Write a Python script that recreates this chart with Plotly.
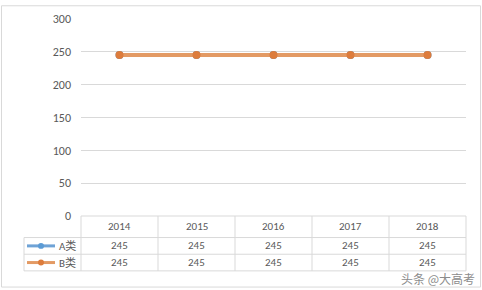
import plotly.graph_objects as go

years = ["2014", "2015", "2016", "2017", "2018"]
a_vals = [245, 245, 245, 245, 245]
b_vals = [245, 245, 245, 245, 245]
series_names = ["A类", "B类"]
y_ticks = [0, 50, 100, 150, 200, 250, 300]

W, H = 482, 290
L, R, T, B = 81, 466, 15, 216
FONT = "Calibri, Liberation Sans, Noto Sans CJK SC"
TXT = "#595959"
GRID = "#D9D9D9"

def px(x):
    return (x - L) / (R - L)

def py(y):
    return (B - y) / (B - T)

fig = go.Figure()
fig.add_trace(go.Scatter(x=years, y=a_vals, name=series_names[0], mode="lines+markers",
                         line=dict(color="#6FA3D6", width=4), marker=dict(color="#5B9BD5", size=8)))
fig.add_trace(go.Scatter(x=years, y=b_vals, name=series_names[1], mode="lines+markers",
                         line=dict(color="#E39A64", width=4), marker=dict(color="#DD7C3C", size=8)))

shapes = []
def hline(x0, x1, y):
    shapes.append(dict(type="line", xref="paper", yref="paper", x0=px(x0), x1=px(x1), y0=py(y), y1=py(y),
                       line=dict(color=GRID, width=1)))
def vline(x, y0, y1):
    shapes.append(dict(type="line", xref="paper", yref="paper", x0=px(x), x1=px(x), y0=py(y0), y1=py(y1),
                       line=dict(color=GRID, width=1)))

rows_y = [216, 238, 255, 272]
hline(L, R, 216)
for yy in rows_y[1:]:
    hline(24, R, yy)
col_w = (R - L) / len(years)
for i in range(len(years) + 1):
    vline(L + i * col_w, 216, 272)
vline(24, 238, 272)

# outer border
shapes.append(dict(type="rect", xref="paper", yref="paper", x0=px(1.5), x1=px(480.5), y0=py(288.5), y1=py(1.5),
                   line=dict(color="#D9D9D9", width=1)))

annotations = []
def txt(x, y, s, xa="center", size=11, color=TXT, family=FONT):
    annotations.append(dict(x=px(x), y=py(y), xref="paper", yref="paper", text=s, showarrow=False,
                            xanchor=xa, yanchor="middle", font=dict(family=family, size=size, color=color)))

for i, yr in enumerate(years):
    cx = L + (i + 0.5) * col_w
    txt(cx, 227, yr)
    for vals, ry in ((a_vals, 246.5), (b_vals, 263.5)):
        txt(cx, ry, str(vals[i]))

for name, ry, lc, mc in ((series_names[0], 246.5, "#6FA3D6", "#5B9BD5"),
                         (series_names[1], 263.5, "#E39A64", "#DD7C3C")):
    shapes.append(dict(type="line", xref="paper", yref="paper", x0=px(27), x1=px(55), y0=py(ry), y1=py(ry),
                       line=dict(color=lc, width=3)))
    shapes.append(dict(type="circle", xref="paper", yref="paper", x0=px(38), x1=px(44), y0=py(ry + 3), y1=py(ry - 3),
                       fillcolor=mc, line=dict(color=mc, width=0)))
    txt(78, ry, name, xa="right")

txt(477, 280, "头条 @大高考", xa="right", size=12, color="#8C8C8C", family="Noto Sans CJK SC")

fig.update_layout(
    width=W, height=H, margin=dict(l=L, r=W - R, t=T, b=H - B),
    paper_bgcolor="white", plot_bgcolor="white", showlegend=False,
    font=dict(family=FONT, size=11, color=TXT),
    xaxis=dict(range=[-0.5, 4.5], showticklabels=False, showgrid=False, zeroline=False, showline=False, ticks=""),
    yaxis=dict(range=[0, 300], tickvals=y_ticks, showgrid=True, gridcolor=GRID, gridwidth=1, zeroline=False,
               showline=False, ticks="", ticklabelstandoff=9, tickfont=dict(family=FONT, size=12, color=TXT)),
    shapes=shapes, annotations=annotations,
)
fig.write_html("out.html")
